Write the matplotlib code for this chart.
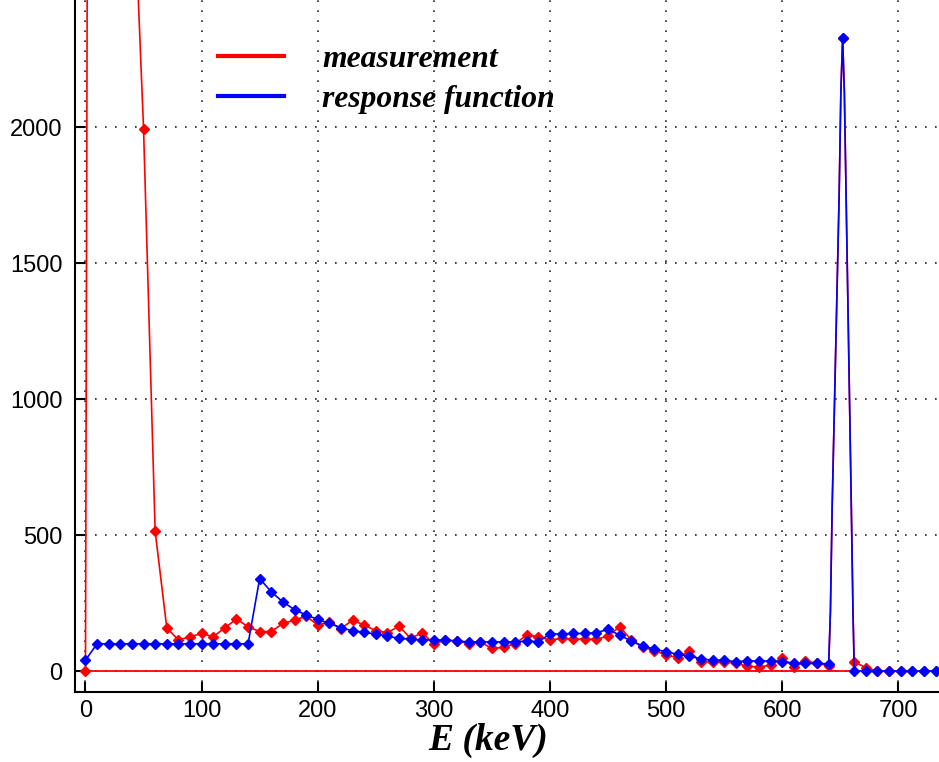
import matplotlib.pyplot as plt
import numpy as np
from matplotlib.lines import Line2D

# Energy grid (keV): 10 keV bins, finer sampling across the 662 keV photopeak
energy = [0, 10, 20, 30, 40, 50, 60, 70, 80, 90,
          100, 110, 120, 130, 140, 150, 160, 170, 180, 190,
          200, 210, 220, 230, 240, 250, 260, 270, 280, 290,
          300, 310, 320, 330, 340, 350, 360, 370, 380, 390,
          400, 410, 420, 430, 440, 450, 460, 470, 480, 490,
          500, 510, 520, 530, 540, 550, 560, 570, 580, 590,
          600, 610, 620, 630, 640,
          641.5, 643, 645, 647, 649, 650.5, 652, 653.5, 655, 656.5, 658, 659.5, 661,
          662, 672, 682, 692, 702, 712, 722, 732]

measurement = [0, 17000, 12000, 6500, 3050, 1995, 514, 159, 114, 126,
               138, 126, 159, 191, 163, 145, 145, 175, 187, 202,
               169, 181, 156, 187, 169, 148, 141, 165, 120, 141,
               99, 114, 110, 101, 107, 83, 87, 101, 132, 126,
               114, 120, 117, 117, 117, 128, 163, 114, 87, 75,
               59, 49, 73, 34, 34, 34, 28, 18, 14, 22,
               49, 14, 35, 30, 18,
               218, 603, 983, 1365, 1747, 2130, 2329, 2130, 1747, 1365, 983, 600, 200,
               34, 12, 0, 0, 0, 0, 0, 0]

response = [40, 100, 100, 100, 100, 100, 100, 100, 100, 100,
            100, 100, 100, 100, 100, 340, 291, 254, 226, 206,
            190, 175, 159, 148, 142, 136, 128, 120, 117, 114,
            114, 114, 110, 107, 107, 107, 107, 107, 110, 108,
            136, 136, 138, 138, 141, 153, 132, 110, 92, 80,
            71, 61, 55, 44, 40, 40, 34, 37, 37, 37,
            34, 30, 28, 28, 26,
            218, 603, 983, 1365, 1747, 2130, 2329, 2130, 1747, 1365, 983, 600, 200,
            0, 0, 0, 0, 0, 0, 0, 0]

# red zero baseline drawn under the measurement
baseline_start, baseline_end = 0, 662

x_ticks = [0, 100, 200, 300, 400, 500, 600, 700]
y_ticks = [0, 500, 1000, 1500, 2000]

# markers only on the regular bins and the peak top
peak_idx = int(np.argmax(response))
marks = [i for i, e in enumerate(energy) if not (640 < e < 662) or i == peak_idx]

fig = plt.figure(figsize=(9.39, 7.62), dpi=100)
ax = fig.add_axes([0.0799, 0.0923, 0.9201, 0.9077])

ax.hlines(0, baseline_start, baseline_end, color="#ff0000", lw=1.3, zorder=2)
ax.plot(energy, measurement, color="#ff0000", lw=1.2, marker="D", markersize=5.5,
        markevery=marks, zorder=3)
ax.plot(energy, response, color="#0000ff", lw=1.2, marker="D", markersize=5.5,
        markevery=marks, zorder=4)

ax.set_xlim(-9, 735)
ax.set_ylim(-76, 2468)
ax.set_xticks(x_ticks)
ax.set_yticks(y_ticks)

ax.grid(True, color="#222222", linestyle=(0, (1, 5)), linewidth=1.2)
ax.set_axisbelow(True)

for side in ["top", "right"]:
    ax.spines[side].set_visible(False)
for side in ["left", "bottom"]:
    ax.spines[side].set_linewidth(1.5)

ax.tick_params(direction="in", length=7, width=1.5, labelsize=17)
ax.tick_params(axis="y", pad=9)
ax.tick_params(axis="x", pad=6)
for lab in ax.get_xticklabels() + ax.get_yticklabels():
    lab.set_family("Liberation Sans")

ax.set_xlabel("E (keV)", family="Liberation Serif", style="italic", weight="bold",
              fontsize=27)
ax.xaxis.set_label_coords(0.4785, -0.045)
ax.xaxis.label.set_va("top")

handles = [Line2D([], [], color="#ff0000", lw=3),
           Line2D([], [], color="#0000ff", lw=3)]
ax.legend(handles, ["measurement", "response function"], loc="upper left",
          bbox_to_anchor=(0.165, 0.935), frameon=False, borderpad=0, borderaxespad=0,
          handlelength=2.1, handletextpad=1.2, labelspacing=0.33,
          prop={"family": "Liberation Serif", "style": "italic", "weight": "bold", "size": 22.8})

plt.savefig("out.png", dpi=100)
